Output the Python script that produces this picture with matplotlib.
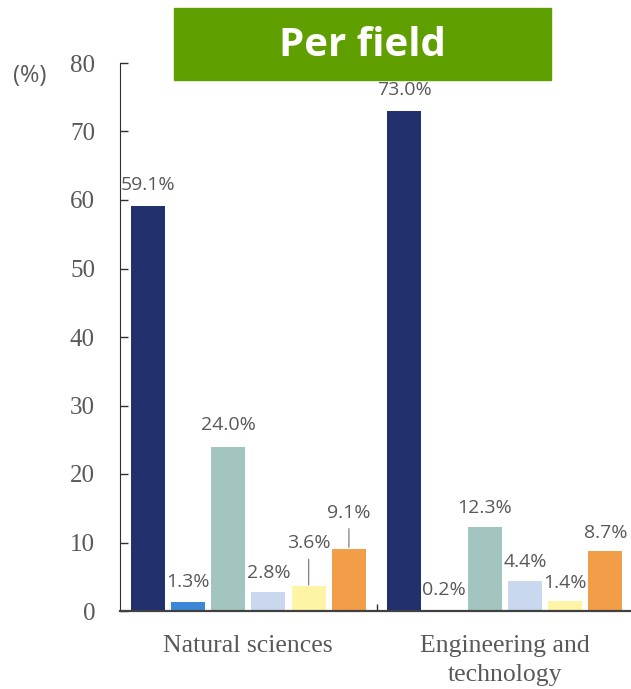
import numpy as np
import matplotlib
matplotlib.use("Agg")
import matplotlib.pyplot as plt
from matplotlib.patches import Rectangle

# ---- data ----
fields = ["Natural sciences", "Engineering and\ntechnology"]
natural_sciences = [59.1, 1.3, 24.0, 2.8, 3.6, 9.1]
engineering_tech = [73.0, 0.2, 12.3, 4.4, 1.4, 8.7]
y_ticks = [0, 10, 20, 30, 40, 50, 60, 70, 80]

# ---- style ----
bar_colors = ['#22306e', '#3b87d6', '#a3c5bf', '#c9d8ee', '#fef4a6', '#f29d48']
# label offset above bar top (px), and whether a leader line is drawn
label_dy = [[21, 20, 22, 19, 43, 36], [21, 20, 19, 19, 18, 18]]
leader = [[False, False, False, False, True, True], [False] * 6]

W, H = 631, 689
fig = plt.figure(figsize=(W / 100, H / 100), dpi=100)
ax = fig.add_axes([120 / W, (H - 611) / H, 513 / W, 548 / H])

step = 0.157
width = 0.1326
n = len(bar_colors)
px2pt = 0.72

for gi, vals in enumerate([natural_sciences, engineering_tech]):
    for i, v in enumerate(vals):
        x = gi + (i - (n - 1) / 2) * step
        ax.bar(x, v, width=width, color=bar_colors[i], zorder=2)
        kw = dict(textcoords='offset points', ha='center', va='center',
                  fontsize=14, color='#595959', family=['Open Sans', 'DejaVu Sans'])
        if leader[gi][i]:
            kw['arrowprops'] = dict(arrowstyle='-', color='#808080', lw=0.9,
                                    shrinkA=3, shrinkB=1)
        ax.annotate(f"{v:.1f}%", xy=(x, v), xytext=(0, label_dy[gi][i] * px2pt), **kw)

ax.set_xlim(-0.5, 1.5)
ax.set_ylim(0, 80)

for s in ['top', 'right']:
    ax.spines[s].set_visible(False)
ax.spines['left'].set_color('#303030')
ax.spines['bottom'].set_color('#404040')
ax.spines['bottom'].set_linewidth(1.6)

ax.set_yticks(y_ticks)
ax.tick_params(axis='y', direction='in', length=6, width=1, pad=18,
               labelsize=18, labelcolor='#595959', colors='#303030')
for lab in ax.get_yticklabels():
    lab.set_family('Liberation Serif')
    lab.set_color('#595959')

ax.set_xticks([0, 1])
ax.set_xticklabels(fields, family='Liberation Serif', fontsize=18.5,
                   color='#595959', linespacing=1.45)
ax.tick_params(axis='x', which='major', length=0, pad=17)
ax.set_xticks([0.5, 1.5], minor=True)
ax.tick_params(axis='x', which='minor', direction='in', length=5, width=1, colors='#303030')

fig.text(30 / W, 1 - 76 / H, "(%)", ha='center', va='center', fontsize=17,
         color='#595959', family=['Open Sans', 'DejaVu Sans'])

# title banner
fig.patches.append(Rectangle((174 / W, 1 - 80 / H), 377 / W, 72 / H,
                             transform=fig.transFigure, color='#5fa000', zorder=0))
fig.text(362 / W, 1 - 45 / H, "Per field", ha='center', va='center', fontsize=29,
         color='white', fontweight='bold', family=['Open Sans', 'DejaVu Sans'])

fig.savefig("out.png", dpi=100)
